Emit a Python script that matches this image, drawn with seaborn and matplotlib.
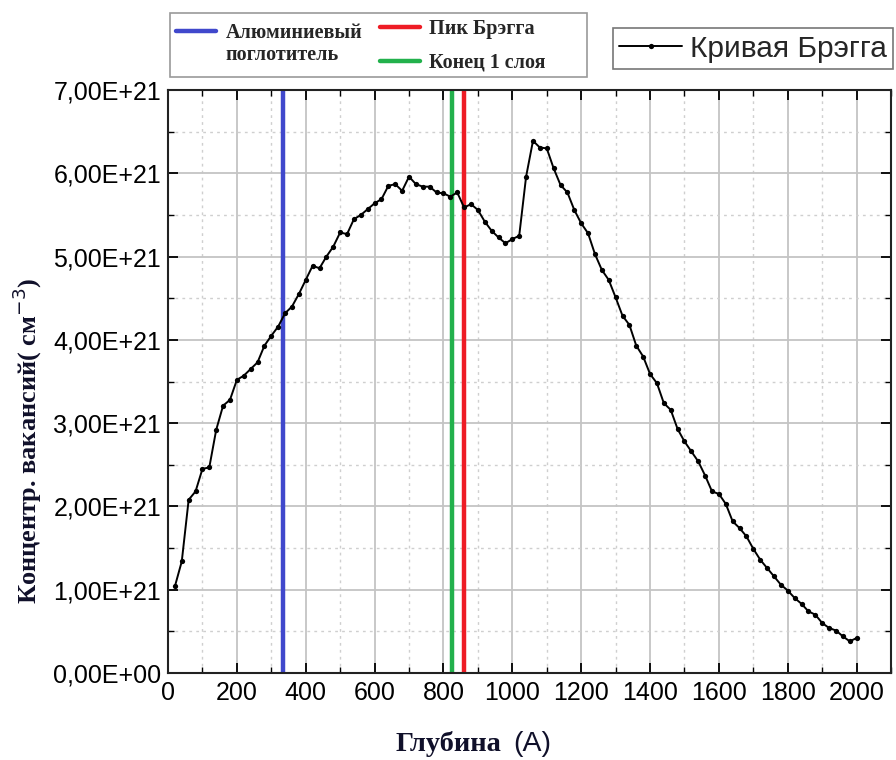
import numpy as np
import pandas as pd
import matplotlib
matplotlib.use("Agg")
import matplotlib.pyplot as plt
import seaborn as sns
from matplotlib.ticker import MultipleLocator, FuncFormatter
from matplotlib.lines import Line2D
from matplotlib.patches import Rectangle

# ---- data ----
depth = [20, 40, 60, 80, 100, 120, 140, 160, 180, 200,
         220, 240, 260, 280, 300, 320, 340, 360, 380, 400,
         420, 440, 460, 480, 500, 520, 540, 560, 580, 600,
         620, 640, 660, 680, 700, 720, 740, 760, 780, 800,
         820, 840, 860, 880, 900, 920, 940, 960, 980, 1000,
         1020, 1040, 1060, 1080, 1100, 1120, 1140, 1160, 1180, 1200,
         1220, 1240, 1260, 1280, 1300, 1320, 1340, 1360, 1380, 1400,
         1420, 1440, 1460, 1480, 1500, 1520, 1540, 1560, 1580, 1600,
         1620, 1640, 1660, 1680, 1700, 1720, 1740, 1760, 1780, 1800,
         1820, 1840, 1860, 1880, 1900, 1920, 1940, 1960, 1980, 2000]
vacancies_e21 = [1.04, 1.34, 2.08, 2.18, 2.45, 2.47, 2.92, 3.21, 3.28, 3.52,
                 3.57, 3.65, 3.73, 3.93, 4.05, 4.16, 4.32, 4.40, 4.55, 4.72,
                 4.89, 4.86, 5.00, 5.12, 5.29, 5.27, 5.45, 5.50, 5.57, 5.64,
                 5.69, 5.85, 5.87, 5.79, 5.96, 5.87, 5.84, 5.84, 5.77, 5.76,
                 5.72, 5.77, 5.59, 5.63, 5.56, 5.42, 5.31, 5.23, 5.16, 5.21,
                 5.25, 5.96, 6.39, 6.31, 6.30, 6.06, 5.86, 5.77, 5.56, 5.40,
                 5.28, 5.03, 4.84, 4.72, 4.51, 4.29, 4.18, 3.93, 3.80, 3.59,
                 3.48, 3.24, 3.16, 2.93, 2.78, 2.66, 2.54, 2.37, 2.18, 2.15,
                 2.03, 1.82, 1.74, 1.64, 1.49, 1.36, 1.26, 1.16, 1.06, 0.99,
                 0.90, 0.83, 0.74, 0.70, 0.60, 0.54, 0.51, 0.44, 0.38, 0.42]

marker_names = ["Алюминиевый\nпоглотитель", "Пик Брэгга", "Конец 1 слоя"]
marker_depths = [335, 860, 826]
marker_colors = ["#4048cc", "#ee1c25", "#22b14c"]

curve_label = "Кривая Брэгга"
x_label_word = "Глубина"
x_label_unit = "(А)"
y_label = "Концентр. вакансий( см$^{-3}$)"

df = pd.DataFrame({"depth": depth,
                   "conc": np.array(vacancies_e21) * 1e21})

# ---- style ----
sns.set_theme(style="white")
plt.rcParams["font.family"] = ["Liberation Sans", "DejaVu Sans"]

fig = plt.figure(figsize=(8.96, 7.60), dpi=100)
ax = fig.add_axes([0.1875, 0.1145, 0.807, 0.767])

# grid
ax.set_axisbelow(True)
ax.xaxis.set_major_locator(MultipleLocator(200))
ax.xaxis.set_minor_locator(MultipleLocator(100))
ax.yaxis.set_major_locator(MultipleLocator(1e21))
ax.yaxis.set_minor_locator(MultipleLocator(0.5e21))
ax.grid(which="major", color="#c4c4c4", linewidth=1.3, linestyle="-")
ax.grid(which="minor", color="#cfcfcf", linewidth=1.0, linestyle=(0, (2, 3)))

# vertical markers
for xv, c in zip(marker_depths, marker_colors):
    ax.axvline(xv, color=c, linewidth=3.2, zorder=2)

# curve
sns.lineplot(data=df, x="depth", y="conc", ax=ax, color="black",
             linewidth=1.4, marker="o", markersize=3.8,
             markeredgewidth=0, zorder=3, legend=False)

ax.set_xlim(0, 2100)
ax.set_ylim(0, 7e21)

def yfmt(v, pos):
    return f"{v:.2E}".replace(".", ",")
ax.yaxis.set_major_formatter(FuncFormatter(yfmt))

ax.tick_params(which="both", direction="in", top=True, right=True,
               bottom=True, left=True, colors="black")
ax.tick_params(which="major", length=7, width=1.3, labelsize=18, pad=6)
ax.tick_params(which="minor", length=4, width=1.0)
ax.tick_params(axis="y", pad=5)
for s in ax.spines.values():
    s.set_color("#222222")
    s.set_linewidth(1.5)

ax.set_xlabel("")
ax.set_ylabel("")

serif = ["Liberation Serif", "DejaVu Serif"]
fig.text(0.030, 0.42, y_label, rotation=90, ha="center", va="center",
         fontsize=19, fontweight="bold", family=serif, color="#10102a")
fig.text(396 / 896, 0.004, x_label_word, ha="left", va="bottom",
         fontsize=20.5, fontweight="bold", family=serif, color="#10102a")
fig.text(513 / 896, 0.004, x_label_unit, ha="left", va="bottom",
         fontsize=20.5, color="#10102a")

# legend for vertical markers (boxed)
fig.patches.append(Rectangle((170 / 896, 1 - 77 / 760), (587 - 170) / 896,
                             (77 - 13) / 760, transform=fig.transFigure,
                             facecolor="white", edgecolor="#9a9a9a",
                             linewidth=1.2, zorder=0))
blue_lines = marker_names[0].split("\n")
h_blue = [Line2D([], [], color=marker_colors[0], linewidth=3.2),
          Line2D([], [], color="none", linewidth=0)]
h_rg = [Line2D([], [], color=marker_colors[1], linewidth=3.2),
        Line2D([], [], color=marker_colors[2], linewidth=3.2)]
base = dict(prop={"family": serif, "weight": "bold", "size": 14.5},
            frameon=False, handlelength=2.0, handletextpad=0.45,
            borderpad=0.0, borderaxespad=0)
leg1 = fig.legend(h_blue, blue_lines, loc="upper left",
                  bbox_to_anchor=(176 / 896, 1 - 23 / 760),
                  labelspacing=0.12, **base)
leg2 = fig.legend(h_rg, marker_names[1:], loc="upper left",
                  bbox_to_anchor=(380 / 896, 1 - 19 / 760),
                  labelspacing=0.68, **base)

# legend for the curve
h_curve = [Line2D([], [], color="black", linewidth=1.4, marker="o",
                  markersize=3.8, markeredgewidth=0)]
leg3 = fig.legend(h_curve, [curve_label], loc="upper right",
                  bbox_to_anchor=(893 / 896, 1 - 28 / 760),
                  prop={"size": 21.5}, frameon=True, fancybox=False,
                  edgecolor="#555555", handlelength=2.1, handletextpad=0.25,
                  borderpad=0.22, borderaxespad=0)
leg3.get_frame().set_linewidth(1.2)

fig.savefig("out.png", dpi=100)
